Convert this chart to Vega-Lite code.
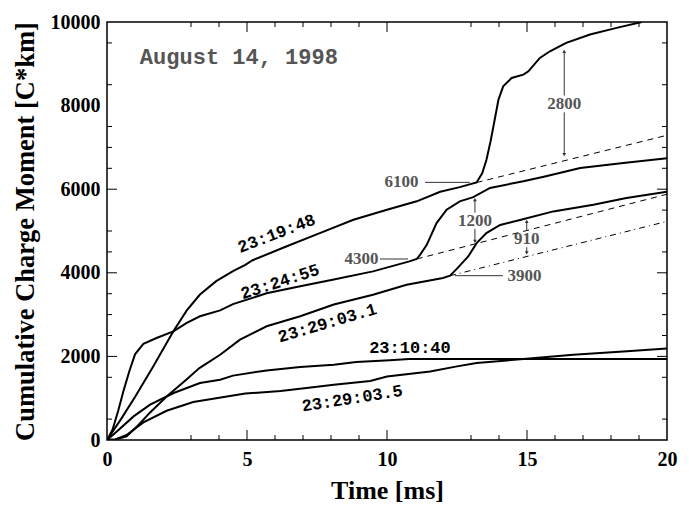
{
  "$schema": "https://vega.github.io/schema/vega-lite/v6.json",
  "width": 560,
  "height": 418,
  "autosize": {"type": "none"},
  "padding": {"left": 107, "top": 22, "right": 22, "bottom": 78},
  "background": "white",
  "config": {
    "view": {"stroke": "black", "strokeWidth": 1.5},
    "axis": {"domain": false, "grid": false}
  },
  "datasets": {
    "curves": [
      {"s": "23:19:48", "t": 0, "v": 0},
      {"s": "23:19:48", "t": 0.5, "v": 500},
      {"s": "23:19:48", "t": 1.0, "v": 1030},
      {"s": "23:19:48", "t": 1.65, "v": 1761},
      {"s": "23:19:48", "t": 2.37, "v": 2600},
      {"s": "23:19:48", "t": 2.85, "v": 3100},
      {"s": "23:19:48", "t": 3.32, "v": 3480},
      {"s": "23:19:48", "t": 3.9, "v": 3800},
      {"s": "23:19:48", "t": 4.5, "v": 4040},
      {"s": "23:19:48", "t": 4.94, "v": 4190},
      {"s": "23:19:48", "t": 5.2, "v": 4300},
      {"s": "23:19:48", "t": 6.4, "v": 4630},
      {"s": "23:19:48", "t": 7.6, "v": 4950},
      {"s": "23:19:48", "t": 8.8, "v": 5270},
      {"s": "23:19:48", "t": 10.0, "v": 5510},
      {"s": "23:19:48", "t": 11.06, "v": 5710},
      {"s": "23:19:48", "t": 11.9, "v": 5940},
      {"s": "23:19:48", "t": 12.6, "v": 6050},
      {"s": "23:19:48", "t": 13.2, "v": 6160},
      {"s": "23:19:48", "t": 13.4, "v": 6380},
      {"s": "23:19:48", "t": 13.55, "v": 6700},
      {"s": "23:19:48", "t": 13.7, "v": 7150},
      {"s": "23:19:48", "t": 13.8, "v": 7500},
      {"s": "23:19:48", "t": 13.98, "v": 8140},
      {"s": "23:19:48", "t": 14.15, "v": 8460},
      {"s": "23:19:48", "t": 14.45, "v": 8660},
      {"s": "23:19:48", "t": 14.87, "v": 8740},
      {"s": "23:19:48", "t": 15.05, "v": 8820},
      {"s": "23:19:48", "t": 15.46, "v": 9140},
      {"s": "23:19:48", "t": 15.82, "v": 9300},
      {"s": "23:19:48", "t": 16.4, "v": 9500},
      {"s": "23:19:48", "t": 17.25, "v": 9700},
      {"s": "23:19:48", "t": 18.2, "v": 9860},
      {"s": "23:19:48", "t": 19.1, "v": 10000},
      {"s": "23:24:55", "t": 0, "v": 0},
      {"s": "23:24:55", "t": 0.2, "v": 250},
      {"s": "23:24:55", "t": 0.4, "v": 700},
      {"s": "23:24:55", "t": 0.6, "v": 1200},
      {"s": "23:24:55", "t": 0.8, "v": 1650},
      {"s": "23:24:55", "t": 1.0, "v": 2050},
      {"s": "23:24:55", "t": 1.3, "v": 2300},
      {"s": "23:24:55", "t": 1.77, "v": 2440},
      {"s": "23:24:55", "t": 2.37, "v": 2600},
      {"s": "23:24:55", "t": 2.85, "v": 2800},
      {"s": "23:24:55", "t": 3.32, "v": 2960},
      {"s": "23:24:55", "t": 4.04, "v": 3100},
      {"s": "23:24:55", "t": 4.5, "v": 3250},
      {"s": "23:24:55", "t": 5.7, "v": 3510},
      {"s": "23:24:55", "t": 6.9, "v": 3680},
      {"s": "23:24:55", "t": 8.1, "v": 3840},
      {"s": "23:24:55", "t": 9.5, "v": 4034},
      {"s": "23:24:55", "t": 10.8, "v": 4273},
      {"s": "23:24:55", "t": 11.06, "v": 4330},
      {"s": "23:24:55", "t": 11.18, "v": 4430},
      {"s": "23:24:55", "t": 11.42, "v": 4670},
      {"s": "23:24:55", "t": 11.77, "v": 5190},
      {"s": "23:24:55", "t": 12.13, "v": 5510},
      {"s": "23:24:55", "t": 12.6, "v": 5710},
      {"s": "23:24:55", "t": 13.08, "v": 5810},
      {"s": "23:24:55", "t": 13.68, "v": 6030},
      {"s": "23:24:55", "t": 14.87, "v": 6190},
      {"s": "23:24:55", "t": 15.6, "v": 6300},
      {"s": "23:24:55", "t": 16.42, "v": 6430},
      {"s": "23:24:55", "t": 16.9, "v": 6507},
      {"s": "23:24:55", "t": 18.44, "v": 6627},
      {"s": "23:24:55", "t": 20, "v": 6740},
      {"s": "23:29:03.1", "t": 0, "v": 0},
      {"s": "23:29:03.1", "t": 0.3, "v": 10},
      {"s": "23:29:03.1", "t": 0.7, "v": 90},
      {"s": "23:29:03.1", "t": 1.1, "v": 340},
      {"s": "23:29:03.1", "t": 1.54, "v": 660},
      {"s": "23:29:03.1", "t": 2.13, "v": 1040},
      {"s": "23:29:03.1", "t": 2.84, "v": 1450},
      {"s": "23:29:03.1", "t": 3.3, "v": 1720},
      {"s": "23:29:03.1", "t": 4.04, "v": 2040},
      {"s": "23:29:03.1", "t": 4.75, "v": 2400},
      {"s": "23:29:03.1", "t": 5.7, "v": 2720},
      {"s": "23:29:03.1", "t": 6.9, "v": 2960},
      {"s": "23:29:03.1", "t": 8.1, "v": 3240},
      {"s": "23:29:03.1", "t": 9.5, "v": 3476},
      {"s": "23:29:03.1", "t": 10.7, "v": 3715},
      {"s": "23:29:03.1", "t": 12.0, "v": 3875},
      {"s": "23:29:03.1", "t": 12.25, "v": 3930},
      {"s": "23:29:03.1", "t": 12.5, "v": 4100},
      {"s": "23:29:03.1", "t": 12.9, "v": 4390},
      {"s": "23:29:03.1", "t": 13.2, "v": 4710},
      {"s": "23:29:03.1", "t": 13.55, "v": 4950},
      {"s": "23:29:03.1", "t": 14.04, "v": 5144},
      {"s": "23:29:03.1", "t": 14.75, "v": 5263},
      {"s": "23:29:03.1", "t": 15.94, "v": 5469},
      {"s": "23:29:03.1", "t": 17.37, "v": 5629},
      {"s": "23:29:03.1", "t": 18.55, "v": 5789},
      {"s": "23:29:03.1", "t": 20, "v": 5940},
      {"s": "23:10:40", "t": 0, "v": 0},
      {"s": "23:10:40", "t": 0.35, "v": 206},
      {"s": "23:10:40", "t": 0.95, "v": 565},
      {"s": "23:10:40", "t": 1.54, "v": 845},
      {"s": "23:10:40", "t": 2.38, "v": 1124},
      {"s": "23:10:40", "t": 3.32, "v": 1364},
      {"s": "23:10:40", "t": 4.04, "v": 1443},
      {"s": "23:10:40", "t": 4.5, "v": 1540},
      {"s": "23:10:40", "t": 5.7, "v": 1665},
      {"s": "23:10:40", "t": 6.9, "v": 1746},
      {"s": "23:10:40", "t": 8.1, "v": 1800},
      {"s": "23:10:40", "t": 8.9, "v": 1866},
      {"s": "23:10:40", "t": 10.1, "v": 1910},
      {"s": "23:10:40", "t": 10.8, "v": 1937},
      {"s": "23:10:40", "t": 20, "v": 1937},
      {"s": "23:29:03.5", "t": 0, "v": 0},
      {"s": "23:29:03.5", "t": 0.3, "v": 15},
      {"s": "23:29:03.5", "t": 0.7, "v": 120},
      {"s": "23:29:03.5", "t": 1.3, "v": 420},
      {"s": "23:29:03.5", "t": 2.13, "v": 700},
      {"s": "23:29:03.5", "t": 3.08, "v": 910},
      {"s": "23:29:03.5", "t": 3.9, "v": 1000},
      {"s": "23:29:03.5", "t": 4.94, "v": 1110},
      {"s": "23:29:03.5", "t": 6.2, "v": 1170},
      {"s": "23:29:03.5", "t": 7.2, "v": 1250},
      {"s": "23:29:03.5", "t": 8.1, "v": 1323},
      {"s": "23:29:03.5", "t": 9.4, "v": 1410},
      {"s": "23:29:03.5", "t": 10.0, "v": 1520},
      {"s": "23:29:03.5", "t": 11.54, "v": 1641},
      {"s": "23:29:03.5", "t": 12.5, "v": 1761},
      {"s": "23:29:03.5", "t": 13.2, "v": 1842},
      {"s": "23:29:03.5", "t": 14.87, "v": 1937},
      {"s": "23:29:03.5", "t": 16.65, "v": 2041},
      {"s": "23:29:03.5", "t": 18.44, "v": 2120},
      {"s": "23:29:03.5", "t": 20, "v": 2190}
    ],
    "dashes": [
      {"s": "d6100", "k": "dash", "t": 13.2, "v": 6160},
      {"s": "d6100", "k": "dash", "t": 20, "v": 7290},
      {"s": "d4300", "k": "dash", "t": 11.06, "v": 4330},
      {"s": "d4300", "k": "dash", "t": 20, "v": 5880},
      {"s": "d3900", "k": "dashdot", "t": 12.25, "v": 3930},
      {"s": "d3900", "k": "dashdot", "t": 20, "v": 5230}
    ],
    "xticks": [
      {"t": 3, "k": "minor"}, {"t": 4, "k": "minor"}, {"t": 5, "k": "major"}, {"t": 6, "k": "minor"},
      {"t": 7, "k": "minor"}, {"t": 8, "k": "minor"}, {"t": 9, "k": "minor"}, {"t": 10, "k": "major"},
      {"t": 13, "k": "minor"}, {"t": 14, "k": "minor"}, {"t": 15, "k": "major"}, {"t": 16, "k": "minor"},
      {"t": 17, "k": "minor"}, {"t": 18, "k": "minor"}, {"t": 19, "k": "minor"}
    ],
    "lticks": [
      {"v": 500, "k": "minor"}, {"v": 1500, "k": "minor"}, {"v": 2000, "k": "major"}, {"v": 2500, "k": "minor"},
      {"v": 3000, "k": "minor"}, {"v": 3500, "k": "minor"}, {"v": 4000, "k": "major"}, {"v": 4500, "k": "minor"},
      {"v": 5000, "k": "minor"}, {"v": 6000, "k": "major"}, {"v": 6500, "k": "minor"}, {"v": 7000, "k": "minor"},
      {"v": 7500, "k": "minor"}, {"v": 8500, "k": "minor"}, {"v": 9500, "k": "minor"}
    ],
    "rticks": [
      {"v": 500, "k": "minor"}, {"v": 1500, "k": "minor"}, {"v": 2000, "k": "major"}, {"v": 2500, "k": "minor"},
      {"v": 3000, "k": "minor"}, {"v": 3500, "k": "minor"}, {"v": 4000, "k": "major"}, {"v": 4500, "k": "minor"},
      {"v": 5500, "k": "minor"}, {"v": 6000, "k": "major"}, {"v": 6500, "k": "minor"}, {"v": 7000, "k": "minor"},
      {"v": 7500, "k": "minor"}, {"v": 8500, "k": "minor"}, {"v": 9500, "k": "minor"}
    ],
    "leaders": [
      {"t1": 11.36, "t2": 12.96, "v": 6163},
      {"t1": 9.75, "t2": 10.75, "v": 4330},
      {"t1": 12.43, "t2": 14.14, "v": 3931}
    ],
    "arrows": [
      {"t": 16.33, "v1": 9297, "v2": 8240},
      {"t": 16.33, "v1": 7840, "v2": 6826},
      {"t": 13.14, "v1": 5749, "v2": 5440},
      {"t": 13.14, "v1": 5050, "v2": 4752},
      {"t": 14.99, "v1": 5230, "v2": 5010},
      {"t": 14.99, "v1": 4610, "v2": 4474}
    ],
    "heads": [
      {"t": 16.33, "v": 9297, "d": "up"},
      {"t": 16.33, "v": 6826, "d": "down"},
      {"t": 13.14, "v": 5749, "d": "up"},
      {"t": 13.14, "v": 4752, "d": "down"},
      {"t": 14.99, "v": 5230, "d": "up"},
      {"t": 14.99, "v": 4474, "d": "down"}
    ],
    "nums": [
      {"txt": "2800", "t": 16.33, "v": 8038},
      {"txt": "6100", "t": 10.52, "v": 6163},
      {"txt": "4300", "t": 9.09, "v": 4330},
      {"txt": "3900", "t": 14.91, "v": 3931},
      {"txt": "1200", "t": 13.14, "v": 5246},
      {"txt": "910", "t": 14.99, "v": 4809}
    ],
    "clabels": [
      {"txt": "23:19:48", "t": 6.06, "v": 4935},
      {"txt": "23:24:55", "t": 6.18, "v": 3780},
      {"txt": "23:29:03.1", "t": 7.87, "v": 2794},
      {"txt": "23:10:40", "t": 10.82, "v": 2201},
      {"txt": "23:29:03.5", "t": 8.76, "v": 988}
    ],
    "date": [
      {"txt": "August 14, 1998", "t": 4.71, "v": 9165}
    ]
  },
  "layer": [
    {
      "data": {"name": "curves"},
      "mark": {"type": "line", "color": "black", "strokeWidth": 2, "clip": true},
      "encoding": {
        "x": {"field": "t", "type": "quantitative", "scale": {"domain": [0, 20], "nice": false},
          "axis": {"orient": "bottom", "values": [0, 5, 10, 15, 20], "ticks": false, "domain": false, "grid": false,
            "labelPadding": 9, "labelFont": "Liberation Serif", "labelFontWeight": "bold", "labelFontSize": 20,
            "labelColor": "black", "labelFlush": false, "labelOverlap": false,
            "title": "Time [ms]", "titleFont": "Liberation Serif", "titleFontWeight": "bold", "titleFontSize": 26,
            "titleColor": "black", "titleY": 58, "titleBaseline": "alphabetic"}},
        "y": {"field": "v", "type": "quantitative", "scale": {"domain": [0, 10000], "nice": false},
          "axis": {"orient": "left", "values": [0, 2000, 4000, 6000, 8000, 10000], "format": "d", "ticks": false,
            "domain": false, "grid": false, "labelPadding": 7, "labelFont": "Liberation Serif", "labelFontWeight": "bold",
            "labelFontSize": 20, "labelColor": "black", "labelFlush": false, "labelOverlap": false,
            "title": "Cumulative Charge Moment [C*km]", "titleFont": "Liberation Serif", "titleFontWeight": "bold",
            "titleFontSize": 26.5, "titleColor": "black", "titleX": -74, "titleY": 209, "titleAngle": 270,
            "titleAlign": "center", "titleBaseline": "alphabetic"}},
        "detail": {"field": "s", "type": "nominal"}
      }
    },
    {
      "data": {"name": "dashes"},
      "mark": {"type": "line", "color": "black", "strokeWidth": 1},
      "encoding": {
        "x": {"field": "t", "type": "quantitative", "axis": null},
        "y": {"field": "v", "type": "quantitative", "axis": null},
        "detail": {"field": "s", "type": "nominal"},
        "strokeDash": {"field": "k", "type": "nominal", "scale": {"domain": ["dash", "dashdot"], "range": [[6, 5], [6, 4, 1, 4]]}, "legend": null}
      }
    },
    {
      "data": {"name": "xticks"},
      "mark": {"type": "tick", "orient": "vertical", "color": "black", "thickness": 1, "opacity": 1, "clip": true},
      "encoding": {
        "x": {"field": "t", "type": "quantitative", "axis": null},
        "y": {"datum": 10000, "type": "quantitative", "axis": null},
        "size": {"field": "k", "type": "ordinal", "scale": {"domain": ["major", "minor"], "range": [20, 10]}, "legend": null}
      }
    },
    {
      "data": {"name": "lticks"},
      "mark": {"type": "tick", "orient": "horizontal", "color": "black", "thickness": 1, "opacity": 1, "clip": true},
      "encoding": {
        "x": {"datum": 0, "type": "quantitative", "axis": null},
        "y": {"field": "v", "type": "quantitative", "axis": null},
        "size": {"field": "k", "type": "ordinal", "scale": {"domain": ["major", "minor"], "range": [20, 10]}, "legend": null}
      }
    },
    {
      "data": {"name": "xticks"},
      "transform": [{"filter": "datum.k === 'major'"}],
      "mark": {"type": "rule", "color": "black", "strokeWidth": 1},
      "encoding": {
        "x": {"field": "t", "type": "quantitative", "axis": null},
        "y": {"datum": 0, "type": "quantitative", "axis": null},
        "y2": {"datum": 239}
      }
    },
    {
      "data": {"name": "xticks"},
      "transform": [{"filter": "datum.k === 'minor'"}],
      "mark": {"type": "rule", "color": "black", "strokeWidth": 1},
      "encoding": {
        "x": {"field": "t", "type": "quantitative", "axis": null},
        "y": {"datum": 0, "type": "quantitative", "axis": null},
        "y2": {"datum": 120}
      }
    },
    {
      "data": {"name": "rticks"},
      "transform": [{"filter": "datum.k === 'major'"}],
      "mark": {"type": "rule", "color": "black", "strokeWidth": 1},
      "encoding": {
        "y": {"field": "v", "type": "quantitative", "axis": null},
        "x": {"datum": 20, "type": "quantitative", "axis": null},
        "x2": {"datum": 19.643}
      }
    },
    {
      "data": {"name": "rticks"},
      "transform": [{"filter": "datum.k === 'minor'"}],
      "mark": {"type": "rule", "color": "black", "strokeWidth": 1},
      "encoding": {
        "y": {"field": "v", "type": "quantitative", "axis": null},
        "x": {"datum": 20, "type": "quantitative", "axis": null},
        "x2": {"datum": 19.821}
      }
    },
    {
      "data": {"name": "leaders"},
      "mark": {"type": "rule", "color": "#333", "strokeWidth": 1},
      "encoding": {
        "x": {"field": "t1", "type": "quantitative", "axis": null},
        "x2": {"field": "t2"},
        "y": {"field": "v", "type": "quantitative", "axis": null}
      }
    },
    {
      "data": {"name": "arrows"},
      "mark": {"type": "rule", "color": "#333", "strokeWidth": 1},
      "encoding": {
        "x": {"field": "t", "type": "quantitative", "axis": null},
        "y": {"field": "v1", "type": "quantitative", "axis": null},
        "y2": {"field": "v2"}
      }
    },
    {
      "data": {"name": "heads"},
      "mark": {"type": "point", "filled": true, "color": "#333", "size": 14, "opacity": 1},
      "encoding": {
        "x": {"field": "t", "type": "quantitative", "axis": null},
        "y": {"field": "v", "type": "quantitative", "axis": null},
        "shape": {"field": "d", "type": "nominal", "scale": {"domain": ["up", "down"], "range": ["triangle-up", "triangle-down"]}, "legend": null}
      }
    },
    {
      "data": {"name": "nums"},
      "mark": {"type": "text", "font": "Liberation Serif", "fontWeight": "bold", "fontSize": 17, "color": "#555", "baseline": "middle", "align": "center"},
      "encoding": {
        "x": {"field": "t", "type": "quantitative", "axis": null},
        "y": {"field": "v", "type": "quantitative", "axis": null},
        "text": {"field": "txt"}
      }
    },
    {
      "data": {"name": "clabels"},
      "transform": [{"filter": "datum.txt === '23:19:48'"}],
      "mark": {"type": "text", "font": "Liberation Mono", "fontWeight": "bold", "fontSize": 17, "color": "black", "baseline": "middle", "align": "center", "angle": 339},
      "encoding": {
        "x": {"field": "t", "type": "quantitative", "axis": null},
        "y": {"field": "v", "type": "quantitative", "axis": null},
        "text": {"field": "txt"}
      }
    },
    {
      "data": {"name": "clabels"},
      "transform": [{"filter": "datum.txt === '23:24:55'"}],
      "mark": {"type": "text", "font": "Liberation Mono", "fontWeight": "bold", "fontSize": 17, "color": "black", "baseline": "middle", "align": "center", "angle": 342},
      "encoding": {
        "x": {"field": "t", "type": "quantitative", "axis": null},
        "y": {"field": "v", "type": "quantitative", "axis": null},
        "text": {"field": "txt"}
      }
    },
    {
      "data": {"name": "clabels"},
      "transform": [{"filter": "datum.txt === '23:29:03.1'"}],
      "mark": {"type": "text", "font": "Liberation Mono", "fontWeight": "bold", "fontSize": 17, "color": "black", "baseline": "middle", "align": "center", "angle": 343.5},
      "encoding": {
        "x": {"field": "t", "type": "quantitative", "axis": null},
        "y": {"field": "v", "type": "quantitative", "axis": null},
        "text": {"field": "txt"}
      }
    },
    {
      "data": {"name": "clabels"},
      "transform": [{"filter": "datum.txt === '23:10:40'"}],
      "mark": {"type": "text", "font": "Liberation Mono", "fontWeight": "bold", "fontSize": 17, "color": "black", "baseline": "middle", "align": "center", "angle": 0},
      "encoding": {
        "x": {"field": "t", "type": "quantitative", "axis": null},
        "y": {"field": "v", "type": "quantitative", "axis": null},
        "text": {"field": "txt"}
      }
    },
    {
      "data": {"name": "clabels"},
      "transform": [{"filter": "datum.txt === '23:29:03.5'"}],
      "mark": {"type": "text", "font": "Liberation Mono", "fontWeight": "bold", "fontSize": 17, "color": "black", "baseline": "middle", "align": "center", "angle": 351},
      "encoding": {
        "x": {"field": "t", "type": "quantitative", "axis": null},
        "y": {"field": "v", "type": "quantitative", "axis": null},
        "text": {"field": "txt"}
      }
    },
    {
      "data": {"name": "date"},
      "mark": {"type": "text", "font": "Liberation Mono", "fontWeight": "bold", "fontSize": 22, "color": "#555", "baseline": "middle", "align": "center"},
      "encoding": {
        "x": {"field": "t", "type": "quantitative", "axis": null},
        "y": {"field": "v", "type": "quantitative", "axis": null},
        "text": {"field": "txt"}
      }
    }
  ],
  "resolve": {"axis": {"x": "independent", "y": "independent"}}
}
